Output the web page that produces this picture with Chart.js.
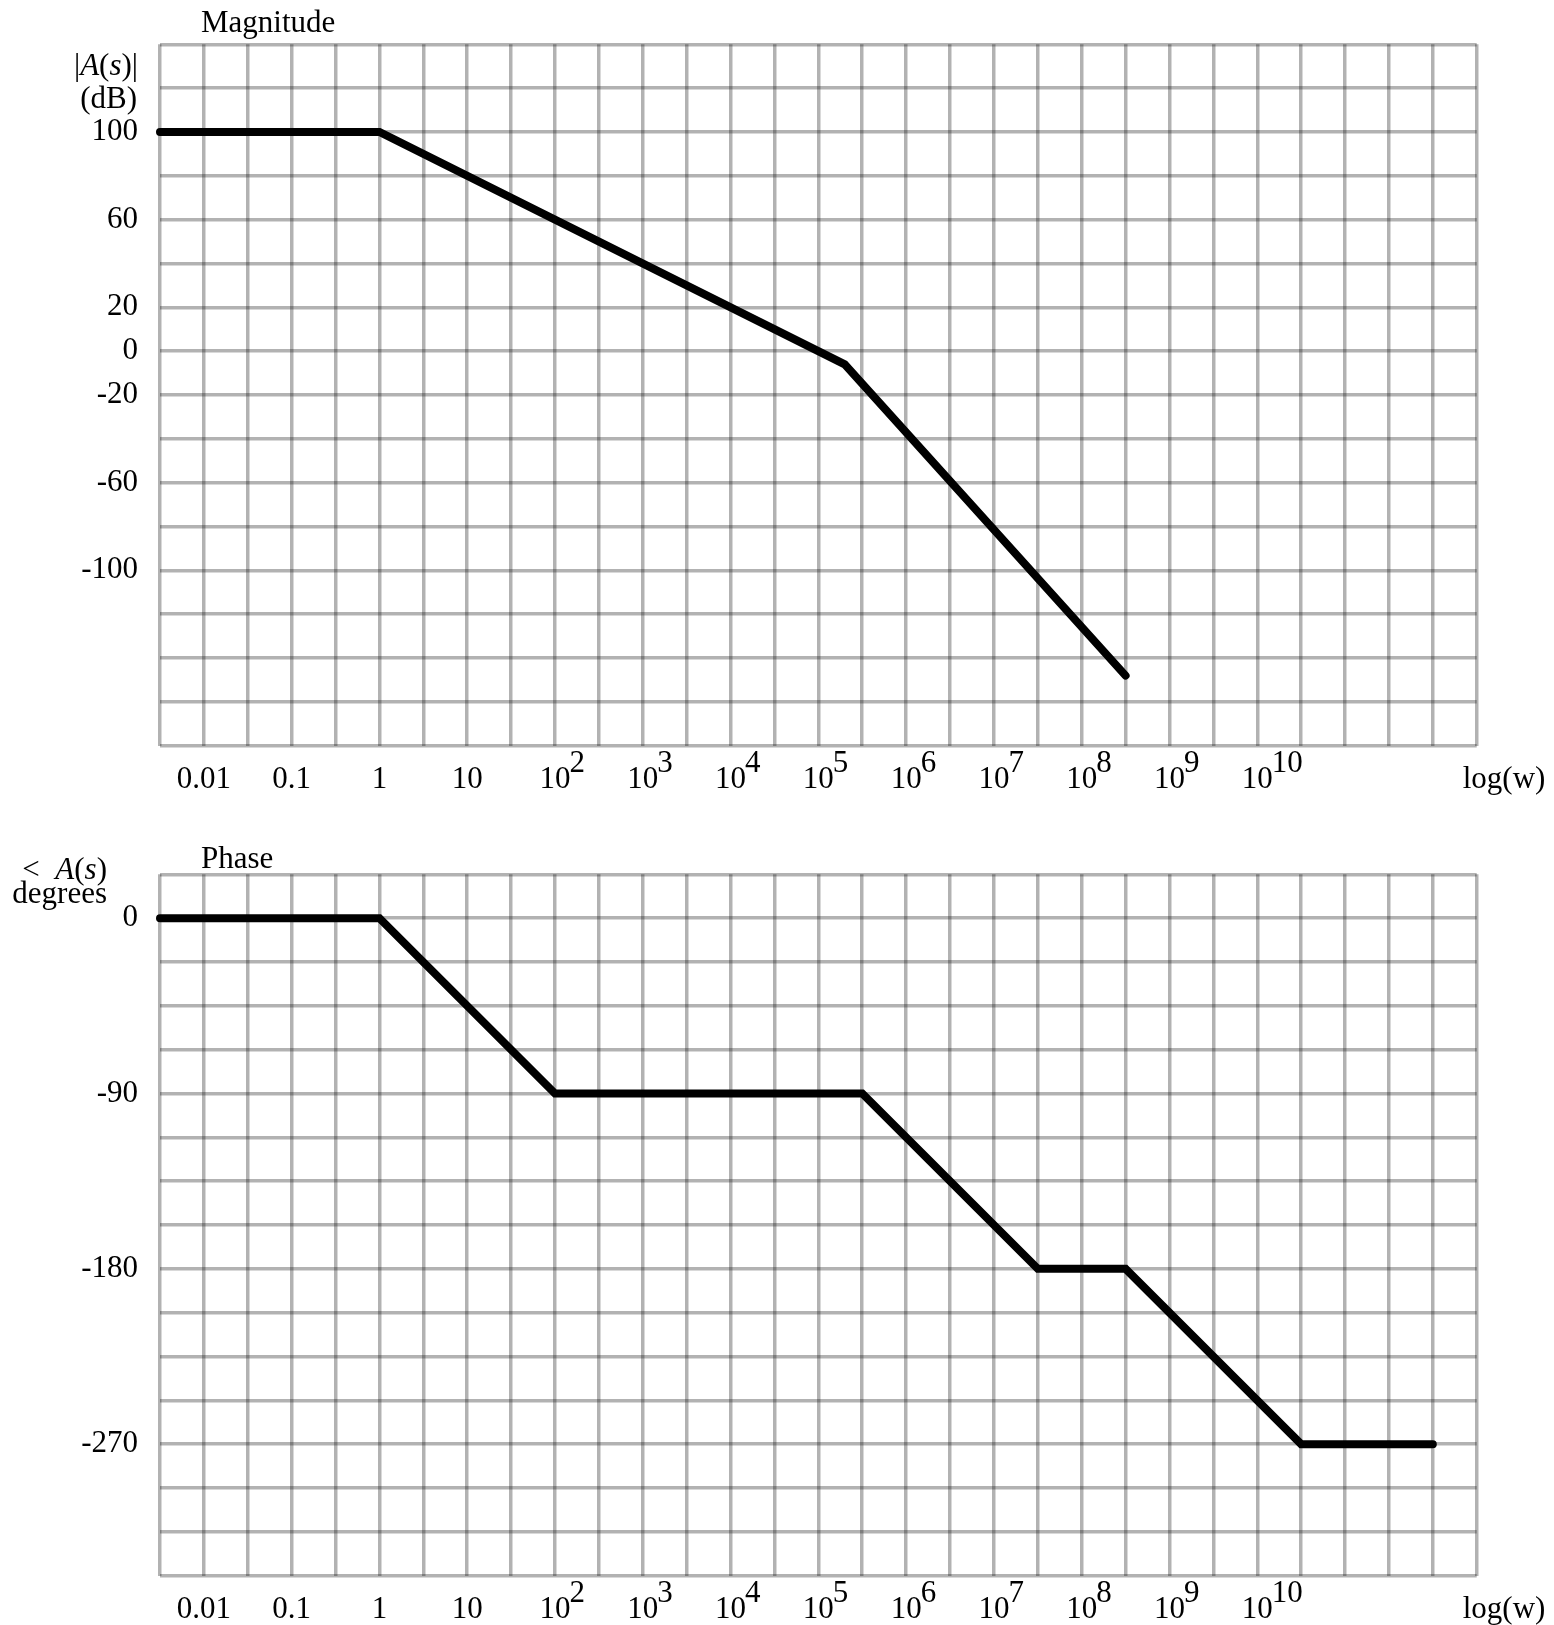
<!DOCTYPE html>
<html>
<head>
<meta charset="utf-8">
<script src="https://cdn.jsdelivr.net/npm/chart.js@4.4.1/dist/chart.umd.min.js"></script>
<style>
  html, body { margin: 0; padding: 0; background: #fff; overflow: hidden; }
  canvas { position: absolute; left: 0; }
  #magChart { top: 0; }
  #phaseChart { top: 830px; }
</style>
</head>
<body>
<canvas id="magChart" width="1554" height="795"></canvas>
<canvas id="phaseChart" width="1554" height="795"></canvas>
<script>
// x axis is log10(w), half a decade per grid column
const X_MIN = -2.5, X_MAX = 12.5, X_STEP = 0.5;
const decadeExps = [-2, -1, 0, 1, 2, 3, 4, 5, 6, 7, 8, 9, 10];
const decadeBase = ['0.01', '0.1', '1', '10', '10', '10', '10', '10', '10', '10', '10', '10', '10'];
const decadeSup  = ['', '', '', '', '2', '3', '4', '5', '6', '7', '8', '9', '10'];

// magnitude asymptotes (dB)
const magLogW = [-2.5, 0, 5.3, 8.5];
const magDb   = [100, 100, -6, -148];
const magTicks = [100, 60, 20, 0, -20, -60, -100];
const MAG_MIN = -180, MAG_MAX = 140, MAG_STEP = 20;

// phase asymptotes (degrees)
const phaseLogW = [-2.5, 0, 2, 5.5, 7.5, 8.5, 10.5, 12];
const phaseDeg  = [0, 0, -90, -90, -180, -180, -270, -270];
const phaseTicks = [0, -90, -180, -270];
const PH_MIN = -337.5, PH_MAX = 22.5, PH_STEP = 22.5;

const FAMILY = '"Liberation Serif", "DejaVu Serif", serif';
const SIZE = 31;
const FONT = SIZE + 'px ' + FAMILY;
const GRID = 'rgba(0,0,0,0.3)';

function drawRuns(ctx, runs, right, y) {
    const fonts = runs.map(r => (r[1] ? 'italic ' : '') + FONT);
    let total = 0;
    const widths = runs.map((r, i) => {
        ctx.font = fonts[i];
        const w = ctx.measureText(r[0]).width;
        total += w;
        return w;
    });
    let x = right - total;
    ctx.textAlign = 'left';
    runs.forEach((r, i) => {
        ctx.font = fonts[i];
        ctx.fillText(r[0], x, y);
        x += widths[i];
    });
}

function bodeTextPlugin(cfg) {
    return {
        id: 'bodeText',
        afterDraw(chart) {
            const { ctx, chartArea, scales } = chart;
            const xs = scales.x;
            ctx.save();
            ctx.fillStyle = '#000';
            ctx.textBaseline = 'alphabetic';
            ctx.font = FONT;

            // decade labels under the grid
            const base = chartArea.bottom + 42;
            decadeExps.forEach((e, i) => {
                const px = xs.getPixelForValue(e);
                const w = ctx.measureText(decadeBase[i]).width;
                ctx.textAlign = 'center';
                ctx.fillText(decadeBase[i], px, base);
                if (decadeSup[i]) {
                    ctx.textAlign = 'left';
                    ctx.fillText(decadeSup[i], px + w / 2 - 1, base - 16);
                }
            });
            ctx.textAlign = 'left';
            ctx.fillText('log(w)', chartArea.right - 14, base);

            // panel title and unit label
            ctx.fillText(cfg.title, chartArea.left + 41, chartArea.top + cfg.titleDy);
            cfg.unitLines.forEach(l => drawRuns(ctx, l.runs, l.right, chartArea.top + l.dy));
            ctx.restore();
        }
    };
}

function makeChart(id, xVals, yVals, yMin, yMax, yStep, yLabels, text) {
    return new Chart(document.getElementById(id), {
        type: 'line',
        data: {
            datasets: [{
                data: xVals.map((v, i) => ({ x: v, y: yVals[i] })),
                borderColor: '#000',
                borderWidth: 8,
                pointRadius: 0,
                tension: 0,
                borderCapStyle: 'round',
                borderJoinStyle: 'miter',
                clip: false
            }]
        },
        options: {
            responsive: false,
            animation: false,
            events: [],
            layout: { padding: { left: 0, top: 44.3, right: 77.3, bottom: 0 } },
            plugins: { legend: { display: false }, tooltip: { enabled: false } },
            scales: {
                x: {
                    type: 'linear',
                    min: X_MIN,
                    max: X_MAX,
                    ticks: { display: false, stepSize: X_STEP, maxTicksLimit: 100 },
                    grid: { color: GRID, lineWidth: 3.5, drawTicks: false },
                    border: { display: false },
                    afterFit: s => { s.height = 795 - 745.7; }
                },
                y: {
                    type: 'linear',
                    min: yMin,
                    max: yMax,
                    ticks: {
                        stepSize: yStep,
                        maxTicksLimit: 100,
                        autoSkip: false,
                        padding: 22,
                        labelOffset: 0,
                        color: '#000',
                        font: { family: FAMILY, size: SIZE },
                        callback: v => yLabels.some(t => Math.abs(t - v) < 1e-6) ? String(Math.round(v)) : ''
                    },
                    grid: { color: GRID, lineWidth: 3.5, drawTicks: false },
                    border: { display: false },
                    afterFit: s => { s.width = 160; }
                }
            }
        },
        plugins: [bodeTextPlugin(text)]
    });
}

makeChart('magChart', magLogW, magDb, MAG_MIN, MAG_MAX, MAG_STEP, magTicks, {
    title: 'Magnitude',
    titleDy: -12,
    unitLines: [
        { runs: [['|'], ['A', 1], ['('], ['s', 1], [')'], ['|']], right: 138, dy: 31 },
        { runs: [['(dB)']], right: 137, dy: 63.5 }
    ]
});

makeChart('phaseChart', phaseLogW, phaseDeg, PH_MIN, PH_MAX, PH_STEP, phaseTicks, {
    title: 'Phase',
    titleDy: -6,
    unitLines: [
        { runs: [['<  '], ['A', 1], ['('], ['s', 1], [')']], right: 107, dy: 4.7 },
        { runs: [['degrees']], right: 107, dy: 28.4 }
    ]
});
</script>
</body>
</html>
